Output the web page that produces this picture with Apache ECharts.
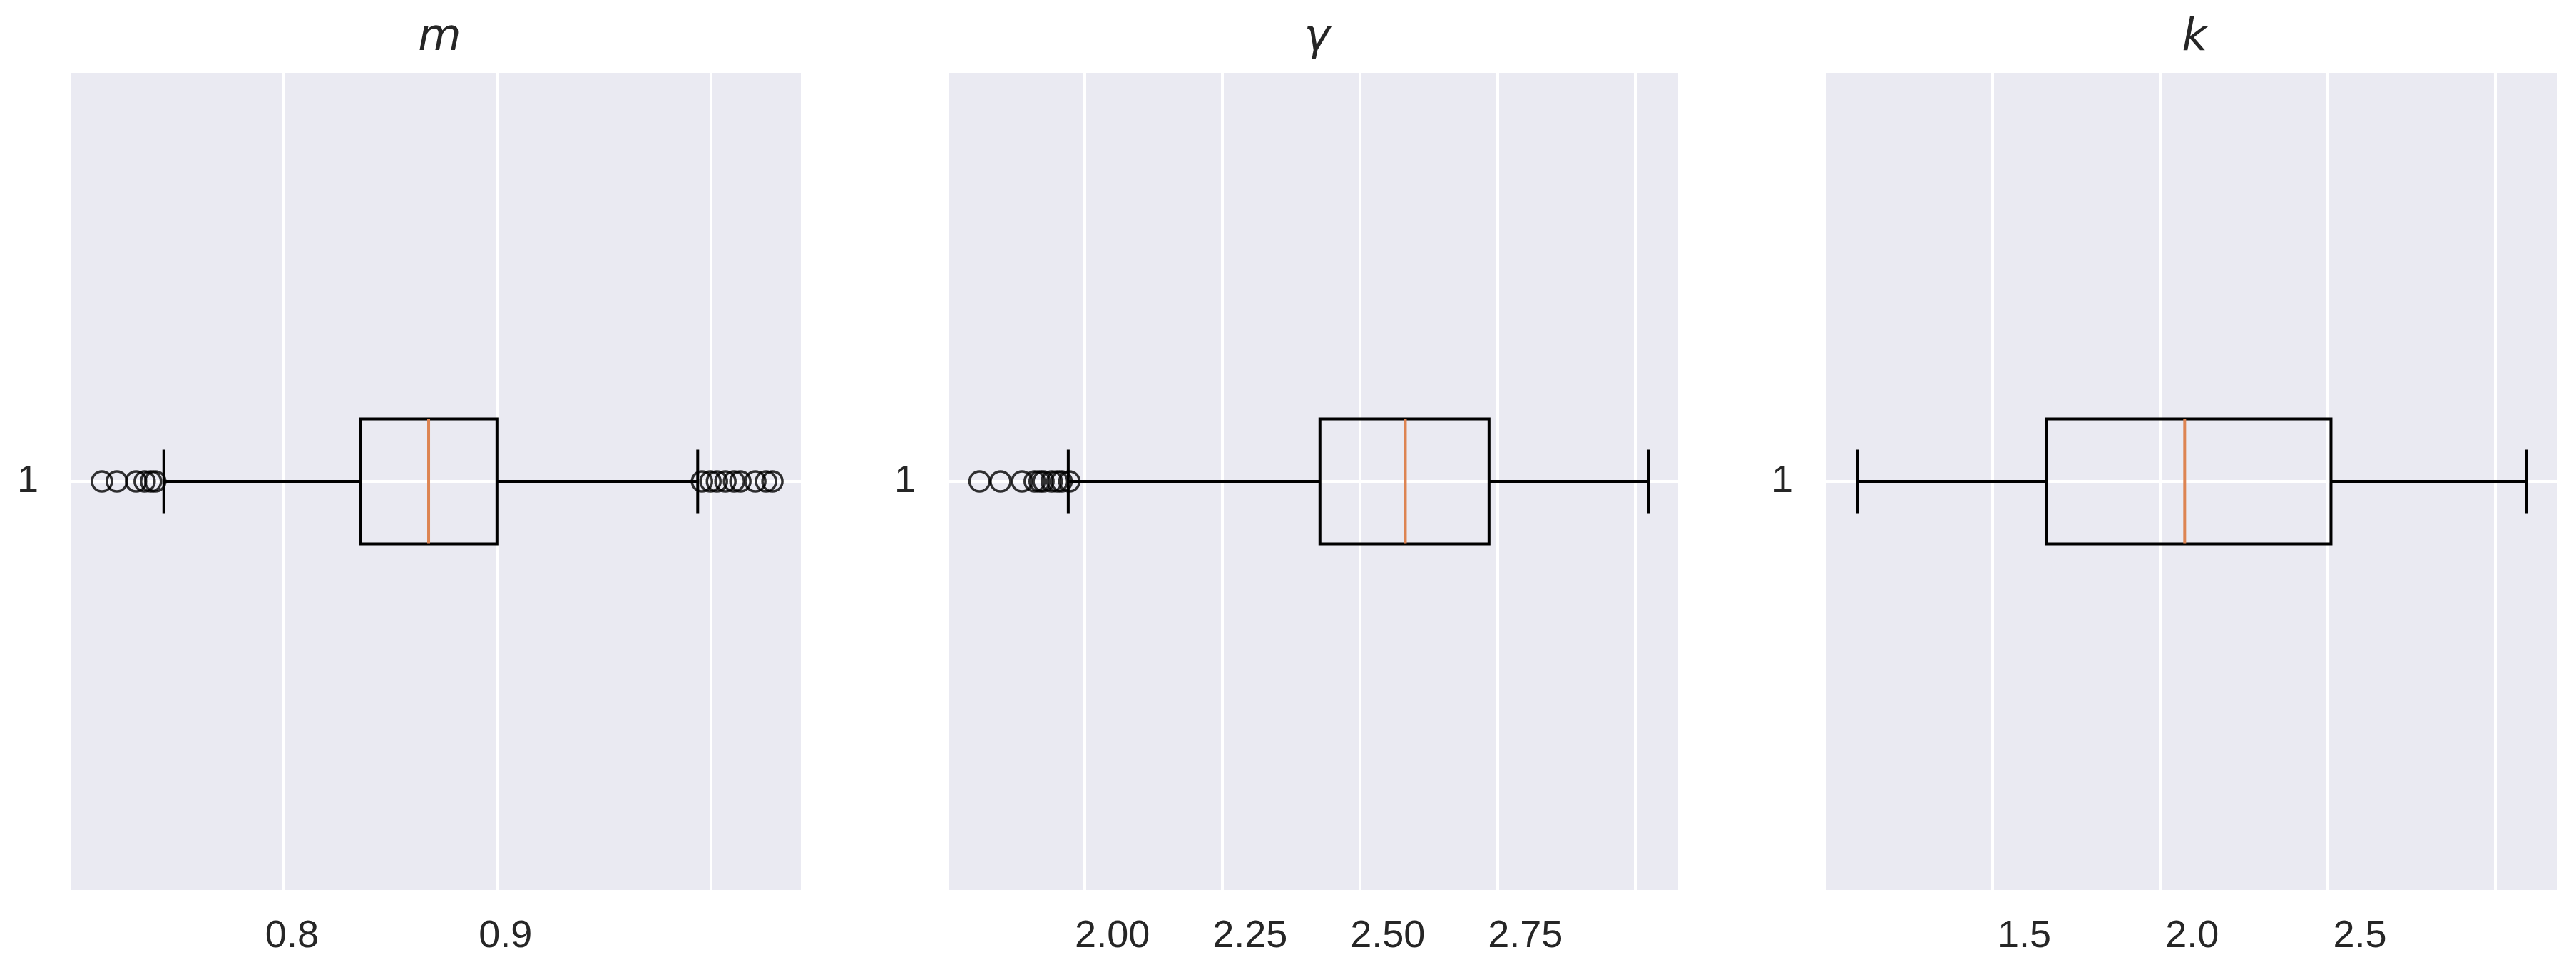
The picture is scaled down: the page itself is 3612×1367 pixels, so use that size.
<!DOCTYPE html>
<html><head><meta charset="utf-8">
<script src="https://cdn.jsdelivr.net/npm/echarts@6/dist/echarts.min.js"></script>
<style>html,body{margin:0;padding:0;background:#fff}#c{width:3612px;height:1367px}</style>
</head><body><div id="c"></div>
<script>
const titles = ['m', 'γ', 'k'];
// [lowWhisker, Q1, median, Q3, highWhisker]
const boxM = [0.740, 0.832, 0.864, 0.896, 0.990];
const boxG = [1.920, 2.377, 2.532, 2.684, 2.973];
const boxK = [1.002, 1.565, 1.978, 2.414, 2.996];
const outM = [0.711, 0.718, 0.727, 0.731, 0.734, 0.736, 0.992, 0.996, 0.999, 1.003, 1.007, 1.010, 1.017, 1.022, 1.025];
const outG = [1.759, 1.797, 1.836, 1.859, 1.868, 1.875, 1.890, 1.900, 1.908, 1.922];
const outK = [];
const xRanges = [[0.696, 1.039, 0.1], [1.70, 3.03, 0.25], [0.904, 3.091, 0.5]];
const xDecimals = [1, 2, 1];

const grids = [
  {left: 98, width: 1027, top: 100, height: 1150},
  {left: 1328, width: 1027, top: 100, height: 1150},
  {left: 2558, width: 1029, top: 100, height: 1150}
];
const boxes = [boxM, boxG, boxK];
const outs = [outM, outG, outK];
const BG = '#EAEAF2';

const option = {
  animation: false,
  backgroundColor: '#fff',
  title: titles.map((t, i) => ({
    text: t, left: grids[i].left + grids[i].width / 2, top: 18, textAlign: 'center',
    textStyle: {fontFamily: 'DejaVu Sans', fontStyle: 'italic', fontWeight: 'normal', fontSize: 62, color: '#262626'}
  })),
  grid: grids.map(g => Object.assign({show: true, backgroundColor: BG, borderWidth: 0}, g)),
  xAxis: xRanges.map((r, i) => ({
    type: 'value', gridIndex: i, min: r[0], max: r[1], interval: r[2],
    axisLine: {show: false}, axisTick: {show: false},
    splitLine: {show: true, lineStyle: {color: '#fff', width: 4}},
    axisLabel: {
      fontFamily: 'Liberation Sans', fontSize: 54, color: '#262626', margin: 36,
      showMinLabel: false, showMaxLabel: false,
      customValues: (function () {
        const v = []; const start = Math.ceil(r[0] / r[2] - 1e-9) * r[2];
        for (let x = start; x <= r[1] + 1e-9; x += r[2]) v.push(+x.toFixed(4));
        return v;
      })(),
      formatter: v => v.toFixed(xDecimals[i])
    },
    axisTick: {show: false}
  })),
  yAxis: grids.map((g, i) => ({
    type: 'value', gridIndex: i, min: 0.5, max: 1.5, interval: 0.5,
    axisLine: {show: false}, axisTick: {show: false},
    splitLine: {show: true, lineStyle: {color: '#fff', width: 4}},
    axisLabel: {fontFamily: 'Liberation Sans', fontSize: 54, color: '#262626', margin: 44,
      formatter: v => (Math.abs(v - 1) < 1e-9 ? '1' : '')}
  })),
  series: []
};

boxes.forEach((b, i) => {
  option.series.push({
    type: 'custom', xAxisIndex: i, yAxisIndex: i, z: 3,
    data: [b],
    renderItem: function (params, api) {
      const lo = api.value(0), q1 = api.value(1), med = api.value(2), q3 = api.value(3), hi = api.value(4);
      const hb = 0.076, hc = 0.0387;
      const p = (x, y) => api.coord([x, y]);
      const st = {stroke: '#000', lineWidth: 4, fill: null};
      const line = (a, c, s) => ({type: 'line', shape: {x1: a[0], y1: a[1], x2: c[0], y2: c[1]}, style: s || st});
      const tl = p(q1, 1 + hb), br = p(q3, 1 - hb);
      return {type: 'group', children: [
        line(p(lo, 1), p(q1, 1)),
        line(p(q3, 1), p(hi, 1)),
        line(p(lo, 1 - hc), p(lo, 1 + hc)),
        line(p(hi, 1 - hc), p(hi, 1 + hc)),
        {type: 'rect', shape: {x: tl[0], y: tl[1], width: br[0] - tl[0], height: br[1] - tl[1]}, style: {stroke: '#000', lineWidth: 4, fill: null}},
        line(p(med, 1 - hb), p(med, 1 + hb), {stroke: '#DD8452', lineWidth: 4})
      ]};
    }
  });
  option.series.push({
    type: 'scatter', xAxisIndex: i, yAxisIndex: i, z: 4,
    symbol: 'circle', symbolSize: 28,
    itemStyle: {color: 'rgba(0,0,0,0)', borderColor: '#000', borderWidth: 3.5},
    data: outs[i].map(v => [v, 1])
  });
});

echarts.init(document.getElementById('c')).setOption(option);
</script></body></html>
